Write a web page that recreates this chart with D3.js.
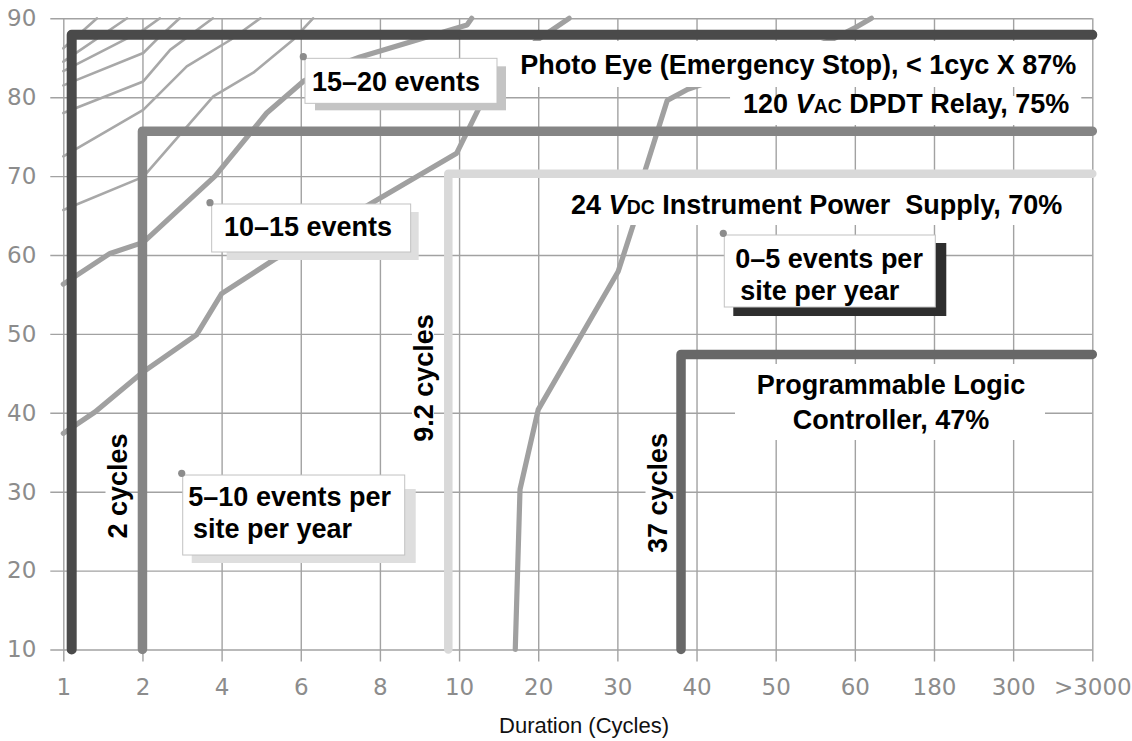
<!DOCTYPE html>
<html>
<head>
<meta charset="utf-8">
<script src="https://cdn.jsdelivr.net/npm/d3@7"></script>
<style>
  html, body { margin: 0; padding: 0; background: #fff; }
  svg { display: block; }
  .tick text { font-family: "DejaVu Sans", Lato, sans-serif; font-weight: normal; fill: #8c8c8c; }
  .lbl { font-family: "Liberation Sans", Arial, Helvetica, sans-serif; font-weight: bold; fill: #000; white-space: pre; }
</style>
</head>
<body>
<svg id="chart" width="1132" height="741"></svg>
<script>
// ---------- DATA ----------
const xCategories = ["1", "2", "4", "6", "8", "10", "20", "30", "40", "50", "60", "180", "300", ">3000"];
const yTickValues = [10, 20, 30, 40, 50, 60, 70, 80, 90];

// Equipment ride-through thresholds: x = category position, y = percent voltage
const equipNames = ["Photo Eye", "120 VAC DPDT Relay", "24 VDC Instrument Power Supply", "Programmable Logic Controller"];
const equipX = [0.106, 1.0, 4.864, 7.804];
const equipY = [87.9, 75.7, 70.3, 47.4];
const equipColors = ["#4a4a4a", "#858585", "#d9d9d9", "#686868"];
const equipWidths = [10, 9.5, 8.5, 9.5];

// Event-frequency contour curves [category position, percent voltage]
const curve0to5 = [[5.71, 10], [5.77, 30.3], [6.0, 40.4], [7.01, 57.9], [7.2, 63.8], [7.34, 70.4], [7.63, 79.6], [7.89, 81.0], [9.69, 87.2], [10.02, 88.9], [10.21, 90]];
const curve5to10 = [[0, 37.4], [0.40, 40.1], [1.01, 45.2], [1.685, 49.9], [2.0, 55.1], [2.66, 59.4], [3.0, 61.3], [4.0, 67.2], [4.97, 72.9], [5.24, 78.4], [5.58, 83.4], [5.98, 87.2], [6.39, 90]];
const curve10to15 = [[0, 56.3], [0.59, 60.2], [1.01, 61.6], [1.917, 70.0], [2.57, 78.0], [3.03, 82.0], [3.37, 83.7], [3.75, 85.1], [5.10, 89.15], [5.16, 90]];
const thinCurves = [
  [[0, 86.2], [0.426, 90]],
  [[0, 84.5], [0.805, 90]],
  [[0, 83.3], [1.01, 88.5], [1.22, 90]],
  [[0, 81.5], [1.01, 85.6], [1.22, 87.7], [1.47, 90]],
  [[0, 78.0], [1.01, 82.0], [1.35, 86.0], [1.89, 90]],
  [[0, 72.5], [1.01, 78.4], [1.56, 83.9], [2.11, 87.25], [2.49, 90]],
  [[0, 65.7], [1.01, 69.9], [1.895, 80.1], [2.40, 83.1], [2.90, 87.25], [3.155, 90]]
];

// Callouts anchored in data space
const calloutText = [["15–20 events"], ["10–15 events"], ["5–10 events per", "site per year"], ["0–5 events per", "site per year"]];
const calloutX = [3.032, 1.853, 1.496, 8.338];
const calloutY = [85.13, 66.63, 32.33, 62.75];

// ---------- LAYOUT ----------
const svg = d3.select("#chart");
const x = d3.scaleLinear().domain([0, 13]).range([63.3, 1092.3]);
const y = d3.scaleLinear().domain([10, 90]).range([649.5, 18.3]);
const gridColor = "#a2a2a2";

// Grid via axes
const xAxisY = y(10) + 12;
const gx = svg.append("g").attr("transform", `translate(0,${xAxisY})`)
  .call(d3.axisBottom(x).tickValues(d3.range(xCategories.length)).tickFormat(i => xCategories[i])
    .tickSizeInner(-(xAxisY - y(90))).tickSizeOuter(0).tickPadding(17));
gx.select(".domain").remove();
gx.selectAll(".tick line").attr("stroke", gridColor).attr("stroke-width", 1.4);
gx.selectAll(".tick text").style("font-size", "23px");

const yAxisX = x(0) - 13;
const gy = svg.append("g").attr("transform", `translate(${yAxisX},0)`)
  .call(d3.axisLeft(y).tickValues(yTickValues).tickFormat(d3.format("d"))
    .tickSizeInner(-(x(13) - yAxisX)).tickSizeOuter(0).tickPadding(14));
gy.select(".domain").remove();
gy.selectAll(".tick line").attr("stroke", gridColor).attr("stroke-width", 1.4);
gy.selectAll(".tick text").style("font-size", "23px");

// Curves
const line = d3.line().x(d => x(d[0])).y(d => y(d[1]));
const gCurves = svg.append("g").attr("fill", "none").attr("stroke-linejoin", "round").attr("stroke-linecap", "round");
thinCurves.forEach(c => gCurves.append("path").attr("d", line(c)).attr("stroke", "#a8a8a8").attr("stroke-width", 2.6));
[curve0to5, curve5to10, curve10to15].forEach(c =>
  gCurves.append("path").attr("d", line(c)).attr("stroke", "#a0a0a0").attr("stroke-width", 5.2));

// Text labels with white backgrounds
function richText(g, parts, size) {
  const t = g.append("text").attr("class", "lbl").style("font-size", size + "px");
  parts.forEach(p => {
    const ts = t.append("tspan").text(p.t);
    if (p.i) ts.style("font-style", "italic");
    if (p.s) ts.style("font-size", (size * 0.72) + "px");
  });
  return t;
}
const gBg = svg.append("g");
const gText = svg.append("g");
const fs = 27;
const hLabels = [
  { parts: [{ t: "Photo Eye (Emergency Stop), < 1cyc X 87%" }], ax: 13, ay: 87.9, dx: -16, base: 74, pad: [24, 14, 33, 13] },
  { parts: [{ t: "120 " }, { t: "V", i: 1 }, { t: "AC", s: 1 }, { t: " DPDT Relay, 75%" }], ax: 13, ay: 75.7, dx: -23, base: 112.5, pad: [13, 12, 16.5, 12.5] },
  { parts: [{ t: "24 " }, { t: "V", i: 1 }, { t: "DC", s: 1 }, { t: " Instrument Power  Supply, 70%" }], ax: 13, ay: 70.3, dx: -30, base: 213.5, pad: [12, 16, 35.5, 11.5] }
];
hLabels.forEach(L => {
  const t = richText(gText, L.parts, fs).attr("text-anchor", "end").attr("x", x(L.ax) + L.dx).attr("y", L.base);
  const b = t.node().getBBox();
  gBg.append("rect").attr("x", b.x - L.pad[0]).attr("y", L.base - L.pad[2])
    .attr("width", b.width + L.pad[0] + L.pad[1]).attr("height", L.pad[2] + L.pad[3]).attr("fill", "#fff");
});
// PLC two-line label
{
  const cx = 891;
  richText(gText, [{ t: "Programmable Logic" }], fs).attr("text-anchor", "middle").attr("x", cx).attr("y", 394);
  richText(gText, [{ t: "Controller, 47%" }], fs).attr("text-anchor", "middle").attr("x", cx).attr("y", 429);
  gBg.append("rect").attr("x", 735).attr("y", 364).attr("width", 310).attr("height", 76).attr("fill", "#fff");
}
// Rotated cycle labels
const cycleLabels = [
  { t: "2 cycles", bx: 126.5, cy: 486 },
  { t: "9.2 cycles", bx: 433, cy: 378 },
  { t: "37 cycles", bx: 666.5, cy: 493 }
];
cycleLabels.forEach(L => {
  const g = gText.append("g").attr("transform", `translate(${L.bx},${L.cy}) rotate(-90)`);
  const t = g.append("text").attr("class", "lbl").style("font-size", fs + "px").attr("text-anchor", "middle").text(L.t);
  const b = t.node().getBBox();
  g.insert("rect", "text").attr("x", b.x - 3).attr("y", -21).attr("width", b.width + 6).attr("height", 22).attr("fill", "#fff");
});

// Equipment threshold step lines (drawn above curves & backgrounds)
const gEquip = svg.insert("g", () => gText.node()).attr("fill", "none").attr("stroke-linecap", "round").attr("stroke-linejoin", "round");
equipNames.forEach((n, i) => {
  const pts = [[equipX[i], 10], [equipX[i], equipY[i]], [13, equipY[i]]];
  gEquip.append("path").attr("d", line(pts)).attr("stroke", equipColors[i]).attr("stroke-width", equipWidths[i]);
});

// Callout boxes
const boxSpec = [
  { ox: 1.7, oy: 1.6, w: 192, h: 45, sh: "#c4c4c4", s: [10, 8, 9, 7], tx: [7], tb: [32.4] },
  { ox: 1.7, oy: 1.3, w: 199, h: 48, sh: "#dedede", s: [15, 8, 8, 8], tx: [12.3], tb: [32] },
  { ox: 1.0, oy: 1.7, w: 222, h: 80, sh: "#dedede", s: [9, 14, 11, 8], tx: [5.6, 10.3], tb: [30.5, 63] },
  { ox: 1.0, oy: 1.7, w: 211, h: 72, sh: "#2e2e2e", s: [9, 8, 11, 9], tx: [11, 16], tb: [33, 65] }
];
const gCall = svg.append("g");
calloutText.forEach((lines, i) => {
  const S = boxSpec[i];
  const px = x(calloutX[i]), py = y(calloutY[i]);
  const bx = px + S.ox, by = py + S.oy;
  gCall.append("rect").attr("x", bx + S.s[0]).attr("y", by + S.s[1])
    .attr("width", S.w - S.s[0] + S.s[2]).attr("height", S.h - S.s[1] + S.s[3]).attr("fill", S.sh);
  gCall.append("rect").attr("x", bx).attr("y", by).attr("width", S.w).attr("height", S.h)
    .attr("fill", "#fff").attr("stroke", "#c2c2c2").attr("stroke-width", 1);
  lines.forEach((ln, j) => {
    gCall.append("text").attr("class", "lbl").style("font-size", fs + "px")
      .attr("x", bx + S.tx[j]).attr("y", by + S.tb[j]).text(ln);
  });
  gCall.append("circle").attr("cx", px).attr("cy", py).attr("r", 3.6).attr("fill", "#8c8c8c");
});

// Axis title
svg.append("text").attr("x", 584).attr("y", 733).attr("text-anchor", "middle")
  .style("font-family", "'Liberation Sans', Arial, Helvetica, sans-serif").style("font-size", "22px").attr("fill", "#111")
  .text("Duration (Cycles)");
</script>
</body>
</html>
